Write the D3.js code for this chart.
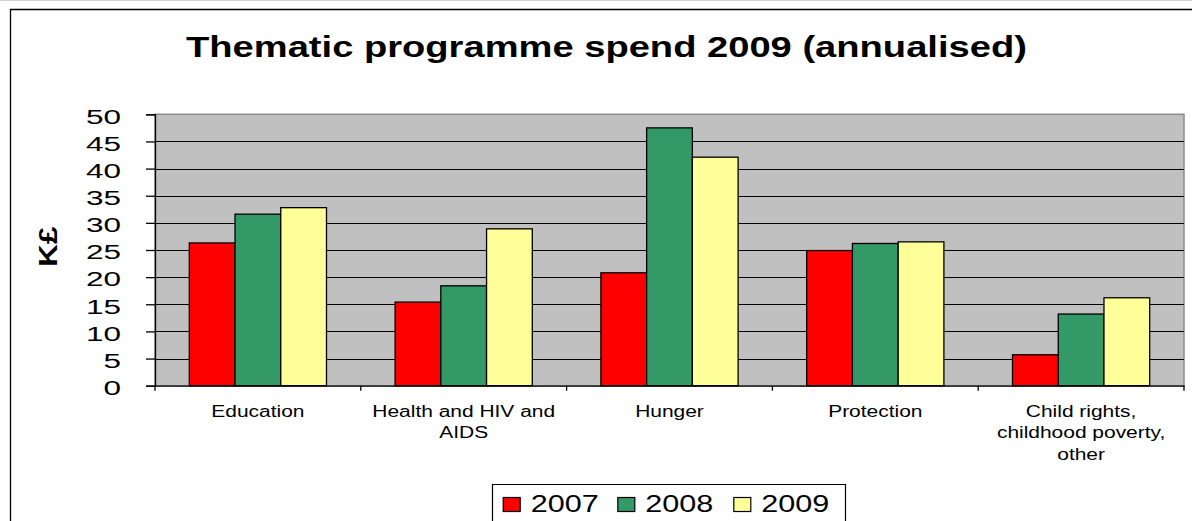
<!DOCTYPE html>
<html>
<head>
<meta charset="utf-8">
<script src="https://cdn.jsdelivr.net/npm/d3@7/dist/d3.min.js"></script>
<style>
  html, body { margin: 0; padding: 0; background: #fff; }
  svg { display: block; }
  text { font-family: "Liberation Sans", Arial, sans-serif; fill: #000; }
</style>
</head>
<body>
<svg id="chart" width="1192" height="521"></svg>
<script>
// Thematic programme spend, K£ per theme and year
const categories = ["Education", "Health and HIV and AIDS", "Hunger", "Protection", "Child rights, childhood poverty, other"];
const categoryLines = [
  ["Education"],
  ["Health and HIV and", "AIDS"],
  ["Hunger"],
  ["Protection"],
  ["Child rights,", "childhood poverty,", "other"]
];
const seriesNames = ["2007", "2008", "2009"];
const values2007 = [26.3, 15.4, 20.8, 24.9, 5.7];
const values2008 = [31.6, 18.4, 47.5, 26.2, 13.2];
const values2009 = [32.8, 28.9, 42.1, 26.5, 16.2];
const yTicks = [0, 5, 10, 15, 20, 25, 30, 35, 40, 45, 50];
const titleText = "Thematic programme spend 2009 (annualised)";
const yLabel = "K£";

const seriesValues = [values2007, values2008, values2009];
const colors = ["#ff0000", "#339966", "#ffff99"];

const svg = d3.select("#chart");
const plot = { left: 155, right: 1184, top: 114.3, bottom: 385.7 };

// outer chart frame
svg.append("line").attr("x1", 0).attr("x2", 1192).attr("y1", 0.5).attr("y2", 0.5)
  .attr("stroke", "#d0d0d0").attr("stroke-width", 1);
svg.append("path").attr("d", "M10.5,530 V9.5 H1200")
  .attr("fill", "none").attr("stroke", "#000").attr("stroke-width", 1.3);

// title, stretched to its set width
const title = svg.append("text")
  .attr("font-size", 30).attr("font-weight", "bold")
  .text(titleText);
const tw = title.node().getComputedTextLength();
const titleSx = 841 / tw;
title.attr("transform", `translate(186,56.7) scale(${titleSx},1)`);

// scales
const x = d3.scaleBand().domain(categories).range([plot.left, plot.right]).padding(0);
const xs = d3.scaleBand().domain(seriesNames).range([0, x.bandwidth()])
  .paddingInner(0).paddingOuter(0.75);
const y = d3.scaleLinear().domain([0, 50]).range([plot.bottom, plot.top]);

// plot area
svg.append("rect")
  .attr("x", plot.left).attr("y", plot.top)
  .attr("width", plot.right - plot.left).attr("height", plot.bottom - plot.top)
  .attr("fill", "#c0c0c0").attr("stroke", "#8c8c8c").attr("stroke-width", 1.5);

// gridlines
svg.append("g").selectAll("line")
  .data(yTicks.filter(t => t > 0 && t < 50))
  .join("line")
  .attr("x1", plot.left).attr("x2", plot.right)
  .attr("y1", d => Math.round(y(d)) + 0.5).attr("y2", d => Math.round(y(d)) + 0.5)
  .attr("stroke", "#000").attr("stroke-width", 1);

// bars
const rows = categories.map((c, i) => ({ cat: c, vals: seriesNames.map((s, j) => ({ s, v: seriesValues[j][i], j })) }));
svg.append("g").selectAll("g")
  .data(rows)
  .join("g")
  .attr("transform", d => `translate(${x(d.cat)},0)`)
  .selectAll("rect")
  .data(d => d.vals)
  .join("rect")
  .attr("x", d => xs(d.s))
  .attr("y", d => y(d.v))
  .attr("width", xs.bandwidth())
  .attr("height", d => y(0) - y(d.v))
  .attr("fill", d => colors[d.j])
  .attr("stroke", "#000").attr("stroke-width", 1.3);

// y axis
const tickSx = 1.5;
const yAxis = svg.append("g").attr("transform", `translate(${plot.left},0)`)
  .call(d3.axisLeft(y).tickValues(yTicks).tickSize(9).tickPadding(0).tickFormat(d3.format("d")));
yAxis.select(".domain").attr("stroke", "#000").attr("stroke-width", 1.3);
yAxis.selectAll(".tick line").attr("stroke", "#000").attr("stroke-width", 1.3);
yAxis.selectAll(".tick text")
  .attr("font-family", "Liberation Sans, Arial, sans-serif")
  .attr("font-size", 21)
  .attr("x", -34 / tickSx)
  .attr("dy", "0.42em")
  .attr("transform", `scale(${tickSx},1)`)
  .attr("fill", "#000");

// x axis
const xAxis = svg.append("g").attr("transform", `translate(0,${plot.bottom})`)
  .call(d3.axisBottom(x).tickSize(0).tickFormat(""));
xAxis.select(".domain").attr("stroke", "#000").attr("stroke-width", 1.3);
xAxis.selectAll(".tick").remove();
svg.append("g").selectAll("line")
  .data(d3.range(categories.length + 1))
  .join("line")
  .attr("x1", i => plot.left + i * x.step()).attr("x2", i => plot.left + i * x.step())
  .attr("y1", plot.bottom).attr("y2", plot.bottom + 5)
  .attr("stroke", "#000").attr("stroke-width", 1.3);

// category labels
const labSx = 1.31;
const lab = svg.append("g").selectAll("g")
  .data(categories)
  .join("g")
  .attr("transform", d => `translate(${x(d) + x.bandwidth() / 2},416.7) scale(${labSx},1)`);
lab.each(function (d, i) {
  d3.select(this).selectAll("text")
    .data(categoryLines[i])
    .join("text")
    .attr("text-anchor", "middle")
    .attr("font-size", 16)
    .attr("y", (t, k) => k * 21.5)
    .text(t => t);
});

// y axis title
svg.append("text")
  .attr("transform", "translate(57,246.7) rotate(-90) scale(1.25,1)")
  .attr("text-anchor", "middle")
  .attr("font-size", 25).attr("font-weight", "bold")
  .text(yLabel);

// legend
const legend = svg.append("g");
legend.append("path").attr("d", "M492.5,530 V484.5 H845.5 V530")
  .attr("fill", "#fff").attr("stroke", "#000").attr("stroke-width", 1.2);
const legendX = [502.7, 617.3, 733.3];
const li = legend.selectAll("g.item")
  .data(seriesNames)
  .join("g").attr("class", "item")
  .attr("transform", (d, i) => `translate(${legendX[i]},0)`);
li.append("rect")
  .attr("x", 0.5).attr("y", 497.5).attr("width", 17).attr("height", 14)
  .attr("fill", (d, i) => colors[i]).attr("stroke", "#000").attr("stroke-width", 1.2);
li.append("text")
  .attr("transform", "translate(28,511.7) scale(1.33,1)")
  .attr("font-size", 23)
  .text(d => d);
</script>
</body>
</html>
